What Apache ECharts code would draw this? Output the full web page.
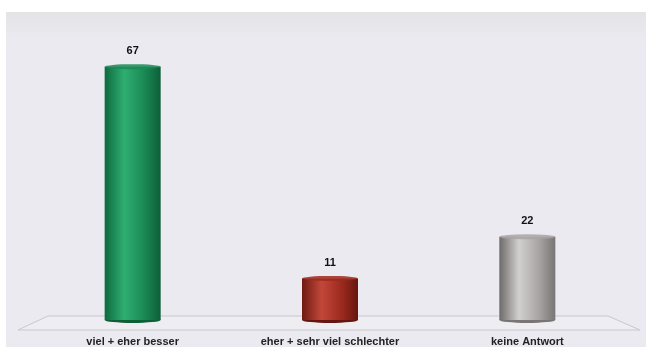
<!DOCTYPE html>
<html><head><meta charset="utf-8">
<script src="https://cdn.jsdelivr.net/npm/echarts@6/dist/echarts.min.js"></script>
<style>html,body{margin:0;padding:0;background:#fff}#c{width:646px;height:347px}</style>
</head><body><div id="c"></div>
<script>
const categories = ["viel + eher besser", "eher + sehr viel schlechter", "keine Antwort"];
const values = [67, 11, 22];
const palettes = [
  ["#0e6a3e", "#2fae72", "#1b8a55", "#0d5f37"],
  ["#6e1a12", "#c2473a", "#9e2a1f", "#65160f"],
  ["#6f6a6a", "#d2cfcf", "#a9a5a5", "#7a7575"]
];
function grad(p){
  return new echarts.graphic.LinearGradient(0,0,1,0,[
    {offset:0,color:p[0]},{offset:0.35,color:p[1]},{offset:0.7,color:p[2]},{offset:1,color:p[3]}]);
}
const chart = echarts.init(document.getElementById('c'));
chart.setOption({
  animation:false,
  backgroundColor:'#ffffff',
  graphic:[
    {type:'rect',z:-10,shape:{x:6,y:12,width:640,height:335},
     style:{fill:new echarts.graphic.LinearGradient(0,0,0,1,[
       {offset:0,color:'#e4e4e6'},{offset:0.05,color:'#e8e7ec'},{offset:0.08,color:'#ebeaf0'},{offset:1,color:'#ebeaf0'}])}},
    {type:'polygon',z:-5,shape:{points:[[48,316],[608,316],[640,330],[18,330]]},
     style:{fill:'#eeedf2',stroke:'#c9c8cc',lineWidth:1}}
  ],
  grid:{left:34,right:20,top:17.5,bottom:25},
  xAxis:{type:'category',data:categories,axisLine:{show:false},axisTick:{show:false},
    axisLabel:{interval:0,margin:16,color:'#222',fontSize:11,fontWeight:'bold',fontFamily:'Liberation Sans'}},
  yAxis:{type:'value',min:0,max:80,show:false,splitLine:{show:false}},
  series:[
    {type:'bar',barWidth:56,z:2,
     data:values.map((v,i)=>({value:v,itemStyle:{color:grad(palettes[i])}})),
     label:{show:true,position:'top',distance:10,color:'#111',fontSize:11,fontWeight:'bold',fontFamily:'Liberation Sans'}},
    {type:'pictorialBar',symbol:'circle',symbolSize:[56,5],symbolPosition:'end',symbolOffset:[0,'-50%'],z:3,
     data:values.map((v,i)=>({value:v,itemStyle:{color:palettes[i][2],opacity:0.85}}))},
    {type:'pictorialBar',symbol:'circle',symbolSize:[56,6],symbolPosition:'start',symbolOffset:[0,'50%'],z:1,
     data:values.map((v,i)=>({value:v,itemStyle:{color:palettes[i][3]}}))}
  ]
});
</script></body></html>
